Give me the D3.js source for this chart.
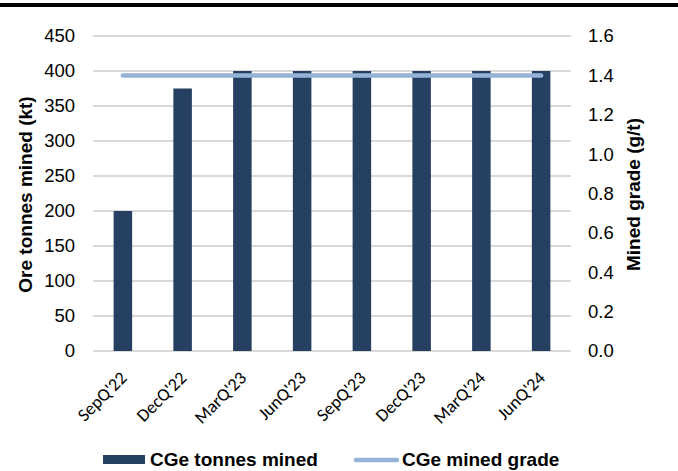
<!DOCTYPE html>
<html>
<head>
<meta charset="utf-8">
<script src="https://cdn.jsdelivr.net/npm/d3@7"></script>
<style>
  html, body { margin: 0; padding: 0; background: #fff; }
  svg { display: block; }
</style>
</head>
<body>
<svg id="chart" width="678" height="471"></svg>
<script>
// Quarterly ore tonnes mined (kt) and mined grade (g/t)
const quarters = ["SepQ'22", "DecQ'22", "MarQ'23", "JunQ'23", "SepQ'23", "DecQ'23", "MarQ'24", "JunQ'24"];
const tonnesMined = [200, 375, 400, 400, 400, 400, 400, 400];
const minedGrade = [1.4, 1.4, 1.4, 1.4, 1.4, 1.4, 1.4, 1.4];
const leftTicks = [0, 50, 100, 150, 200, 250, 300, 350, 400, 450];
const rightTicks = [0, 0.2, 0.4, 0.6, 0.8, 1.0, 1.2, 1.4, 1.6];

const barColor = "#264062";
const lineColor = "#95b3d7";
const gridColor = "#d9d9d9";
const font = "'Liberation Sans', Arial, sans-serif";

const svg = d3.select("#chart");
const W = 678;

// top rule
svg.append("rect").attr("x", 0).attr("y", 3).attr("width", W).attr("height", 4).attr("fill", "#000");

const plot = { left: 93, right: 571, top: 36, bottom: 351 };

const x = d3.scaleBand().domain(quarters).range([plot.left, plot.right]).paddingInner(0.69).paddingOuter(0.345);
const yL = d3.scaleLinear().domain([0, 450]).range([plot.bottom, plot.top]);
const yR = d3.scaleLinear().domain([0, 1.6]).range([plot.bottom, plot.top]);

// gridlines
svg.append("g").selectAll("line").data(leftTicks).join("line")
  .attr("x1", plot.left).attr("x2", plot.right)
  .attr("y1", d => yL(d)).attr("y2", d => yL(d))
  .attr("stroke", gridColor).attr("stroke-width", 2);

// left axis
const axL = svg.append("g").attr("transform", `translate(${plot.left},0)`)
  .call(d3.axisLeft(yL).tickValues(leftTicks).tickSize(0).tickPadding(18).tickFormat(d3.format("d")));
axL.select(".domain").remove();
axL.selectAll("text").attr("font-family", font).attr("font-size", 18.5).attr("fill", "#000");

// right axis
const axR = svg.append("g").attr("transform", `translate(${plot.right},0)`)
  .call(d3.axisRight(yR).tickValues(rightTicks).tickSize(0).tickPadding(17).tickFormat(d3.format(".1f")));
axR.select(".domain").remove();
axR.selectAll("text").attr("font-family", font).attr("font-size", 18.5).attr("fill", "#000");

// bars
svg.append("g").selectAll("rect").data(quarters).join("rect")
  .attr("x", d => x(d))
  .attr("y", (d, i) => yL(tonnesMined[i]))
  .attr("width", x.bandwidth())
  .attr("height", (d, i) => plot.bottom - yL(tonnesMined[i]))
  .attr("fill", barColor);

// grade line
const line = d3.line().x((d, i) => x(quarters[i]) + x.bandwidth() / 2).y(d => yR(d));
svg.append("path").datum(minedGrade)
  .attr("d", line).attr("fill", "none")
  .attr("stroke", lineColor).attr("stroke-width", 4.5).attr("stroke-linecap", "round");

// category labels
svg.append("g").selectAll("text").data(quarters).join("text")
  .attr("transform", d => `translate(${x(d) + x.bandwidth() / 2 + 5},${plot.bottom + 28}) rotate(-45)`)
  .attr("text-anchor", "end")
  .attr("font-family", "Carlito, Lato, 'Open Sans', sans-serif")
  .attr("font-size", 18)
  .attr("fill", "#000")
  .text(d => d);

// axis titles
svg.append("text")
  .attr("transform", `translate(32,${(plot.top + plot.bottom) / 2 + 1}) rotate(-90)`)
  .attr("text-anchor", "middle")
  .attr("font-family", font).attr("font-weight", "bold").attr("font-size", 19)
  .text("Ore tonnes mined (kt)");
svg.append("text")
  .attr("transform", `translate(640,${(plot.top + plot.bottom) / 2 + 1}) rotate(-90)`)
  .attr("text-anchor", "middle")
  .attr("font-family", font).attr("font-weight", "bold").attr("font-size", 19)
  .text("Mined grade (g/t)");

// legend
const lg = svg.append("g");
lg.append("rect").attr("x", 103).attr("y", 455).attr("width", 42).attr("height", 9).attr("fill", barColor);
lg.append("text").attr("x", 150).attr("y", 466)
  .attr("font-family", font).attr("font-weight", "bold").attr("font-size", 19)
  .text("CGe tonnes mined");
lg.append("line").attr("x1", 356).attr("x2", 397).attr("y1", 460).attr("y2", 460)
  .attr("stroke", lineColor).attr("stroke-width", 4.5).attr("stroke-linecap", "round");
lg.append("text").attr("x", 402).attr("y", 466)
  .attr("font-family", font).attr("font-weight", "bold").attr("font-size", 19)
  .text("CGe mined grade");
</script>
</body>
</html>
